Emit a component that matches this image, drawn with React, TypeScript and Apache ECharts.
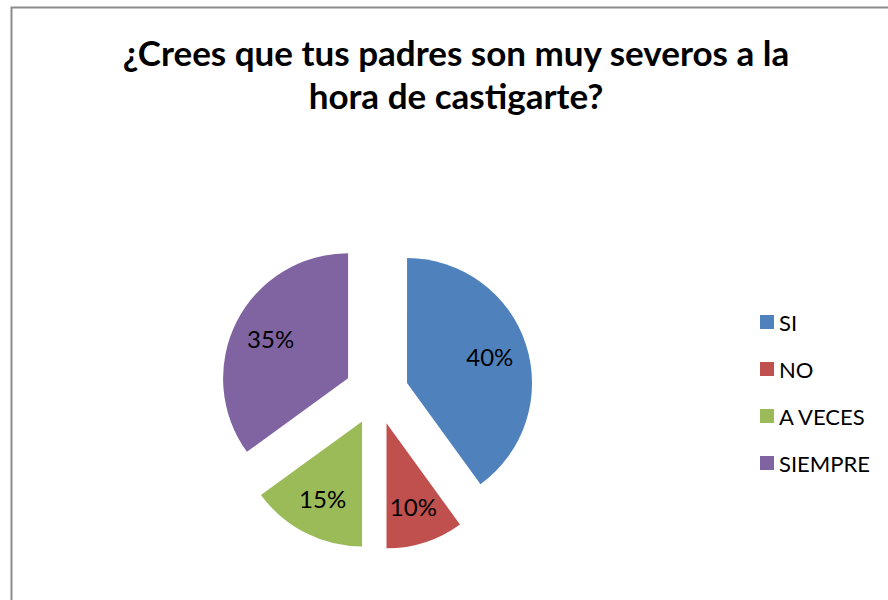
import React, { useEffect, useRef } from "react";
import * as echarts from "echarts";

const categories = ["SI", "NO", "A VECES", "SIEMPRE"];
const values = [40, 10, 15, 35];
const colors = ["#4F81BD", "#C0504D", "#9BBB59", "#8064A2"];
const titleLines = ["¿Crees que tus padres son muy severos a la", "hora de castigarte?"];

export default function App() {
  const ref = useRef<HTMLDivElement>(null);
  useEffect(() => {
    if (!ref.current) return;
    const chart = echarts.init(ref.current, null, { renderer: "svg" });
    const data = categories.map((c, i) => ({
      name: c,
      value: values[i],
      selected: true,
      itemStyle: { color: colors[i] },
    }));
    const font = "Lato, 'Open Sans', sans-serif";
    chart.setOption({
      animation: false,
      backgroundColor: "#ffffff",
      title: {
        text: titleLines.join("\n"),
        left: 451,
        top: 25,
        textAlign: "center",
        textStyle: {
          fontFamily: font,
          fontWeight: "bold",
          fontSize: 35,
          lineHeight: 43,
          color: "#000000",
        },
      },
      legend: {
        orient: "vertical",
        left: 755,
        top: 306,
        itemWidth: 14,
        itemHeight: 14,
        itemGap: 25,
        icon: "rect",
        selectedMode: false,
        data: categories,
        textStyle: { fontFamily: font, fontSize: 22, color: "#000000", padding: [0, 0, 0, 0] },
      },
      graphic: [
        {
          type: "rect",
          shape: { x: 11.5, y: 7.5, width: 1000, height: 1000 },
          style: { fill: "none", stroke: "#8c8c8c", lineWidth: 2 },
          silent: true,
        },
      ],
      series: [
        {
          type: "pie",
          center: [376.6, 392.9],
          radius: [0, 125],
          startAngle: 90,
          clockwise: true,
          selectedMode: "multiple",
          selectedOffset: 32,
          label: { show: false },
          labelLine: { show: false },
          emphasis: { disabled: true },
          data,
        },
        {
          type: "pie",
          center: [376.6, 392.9],
          radius: [0, 168],
          startAngle: 90,
          clockwise: true,
          selectedMode: "multiple",
          selectedOffset: 32,
          silent: true,
          z: 3,
          itemStyle: { color: "transparent" },
          label: {
            show: true,
            position: "inside",
            formatter: "{d}%",
            fontFamily: font,
            fontSize: 24,
            color: "#000000",
          },
          labelLine: { show: false },
          emphasis: { disabled: true },
          legendHoverLink: false,
          data: categories.map((c, i) => ({
            name: c + " ",
            value: values[i],
            selected: true,
            itemStyle: { color: "transparent" },
          })),
        },
      ],
    });
    return () => chart.dispose();
  }, []);
  return (
    <div
      ref={ref}
      style={{ position: "absolute", left: 0, top: 0, width: 888, height: 600 }}
    />
  );
}
